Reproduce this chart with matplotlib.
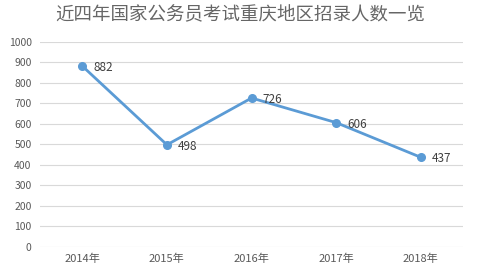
import matplotlib
matplotlib.use("Agg")
import matplotlib.pyplot as plt

plt.rcParams['font.family'] = ['Noto Sans CJK SC', 'DejaVu Sans']

years = ['2014年', '2015年', '2016年', '2017年', '2018年']
counts = [882, 498, 726, 606, 437]
yticks = list(range(0, 1001, 100))

fig = plt.figure(figsize=(4.81, 2.74), dpi=100)
ax = fig.add_axes([0.083, 0.0985, 0.88, 0.749])

x = range(len(years))
ax.plot(x, counts, color='#5B9BD5', linewidth=2.0, marker='o', markersize=5.5, zorder=3)
for i, v in enumerate(counts):
    ax.annotate(str(v), (i, v), xytext=(8, -1), textcoords='offset points',
                ha='left', va='center', fontsize=8.5, color='#404040')

ax.set_xlim(-0.5, len(years) - 0.5)
ax.set_ylim(0, 1000)
ax.set_yticks(yticks)
ax.set_xticks(list(x))
ax.set_xticklabels(years)
ax.grid(axis='y', color='#D9D9D9', linewidth=0.8)
ax.set_axisbelow(True)
for s in ax.spines.values():
    s.set_visible(False)
ax.tick_params(axis='y', length=0, labelsize=7.5, colors='#595959', pad=6)
ax.tick_params(axis='x', length=0, labelsize=8, colors='#595959', pad=5)

fig.text(0.5, 0.945, '近四年国家公务员考试重庆地区招录人数一览', ha='center', va='center',
         fontsize=13.3, color='#666666')

fig.savefig('out.png', dpi=100)
